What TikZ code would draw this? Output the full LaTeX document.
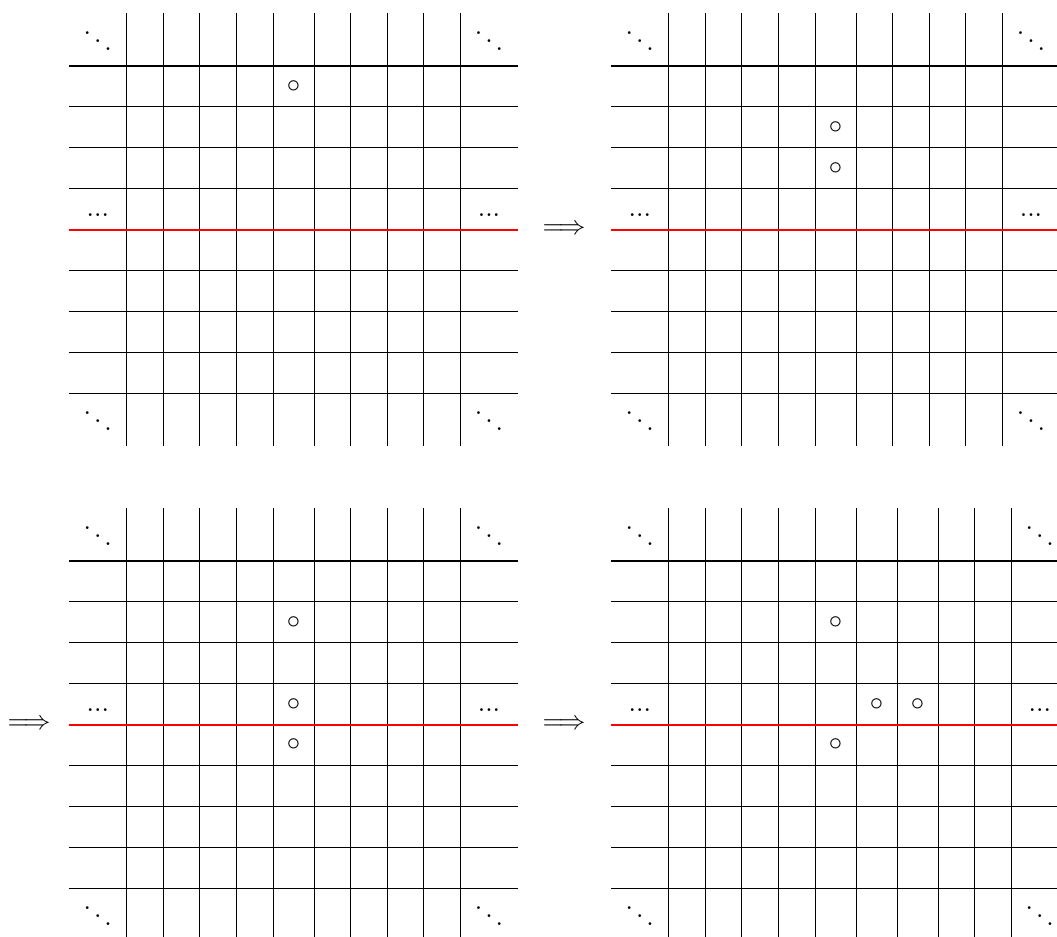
\documentclass[tikz,border=0pt]{standalone}

\newcommand{\gridpanel}[5]{%
  \begin{scope}[shift={#2}]
    \foreach \gx in {#3} \draw[gridline] (\gx,0) -- (\gx,433);
    \foreach \gy in {53,93.9,134.8,175.7,257.5,298.4,339.3,380.2}
      \draw[gridline] (0,\gy) -- (#4,\gy);
    \node[corner] (#1-nw) at (28.8,40.4) {$\ddots$};
    \node[corner] (#1-ne) at ({#4-28.5},40.4) {$\ddots$};
    \node[corner] (#1-sw) at (28.8,420.4) {$\ddots$};
    \node[corner] (#1-se) at ({#4-28.5},420.4) {$\ddots$};
    \node[edots] (#1-w) at (28.8,203.6) {...};
    \node[edots] (#1-e) at ({#4-28.5},203.6) {...};
    #5
    \draw[redline] (0,217.1) -- (#4,217.1);
  \end{scope}}

\begin{document}
\begin{tikzpicture}[x=0.375pt, y=-0.375pt,
  gridline/.style={black, line width=0.4pt},
  redline/.style={draw=red, line width=0.7pt},
  stone/.style={inner sep=0pt},
  corner/.style={anchor=base, inner sep=0pt},
  edots/.style={anchor=base, inner sep=0pt},
  step arrow/.style={inner sep=0pt}]
  \useasboundingbox (0,0) rectangle (1057,936);
  \gridpanel{a}{(69,13)}{57.7,94.3,130.9,167.5,204.1,245.1,281.7,318.3,354.9,391.5}{448.5}{
    \node[stone] (a1) at (224.6,73.45) {$\circ$};}
  \gridpanel{b}{(611,13)}{57.7,94.3,130.9,167.5,204.1,245.1,281.7,318.3,354.9,391.5}{448.5}{
    \node[stone] (b1) at (224.6,114.35) {$\circ$};
    \node[stone] (b2) at (224.6,155.25) {$\circ$};}
  \gridpanel{c}{(69,508)}{57.7,94.3,130.9,167.5,204.1,245.1,281.7,318.3,354.9,391.5}{448.5}{
    \node[stone] (c1) at (224.6,114.35) {$\circ$};
    \node[stone] (c2) at (224.6,196.15) {$\circ$};
    \node[stone] (c3) at (224.6,237.05) {$\circ$};}
  \gridpanel{d}{(611,508)}{57.7,94.3,130.9,167.5,204.1,245.1,286.1,327.1,363.7,400.3}{457.3}{
    \node[stone] (d1) at (224.6,114.35) {$\circ$};
    \node[stone] (d2) at (265.6,196.15) {$\circ$};
    \node[stone] (d3) at (306.6,196.15) {$\circ$};
    \node[stone] (d4) at (224.6,237.05) {$\circ$};}
  \node[step arrow] (ab) at (564,229.6) {$\Longrightarrow$};
  \node[step arrow] (bc) at (29,724.6) {$\Longrightarrow$};
  \node[step arrow] (cd) at (564,724.6) {$\Longrightarrow$};
\end{tikzpicture}
\end{document}
